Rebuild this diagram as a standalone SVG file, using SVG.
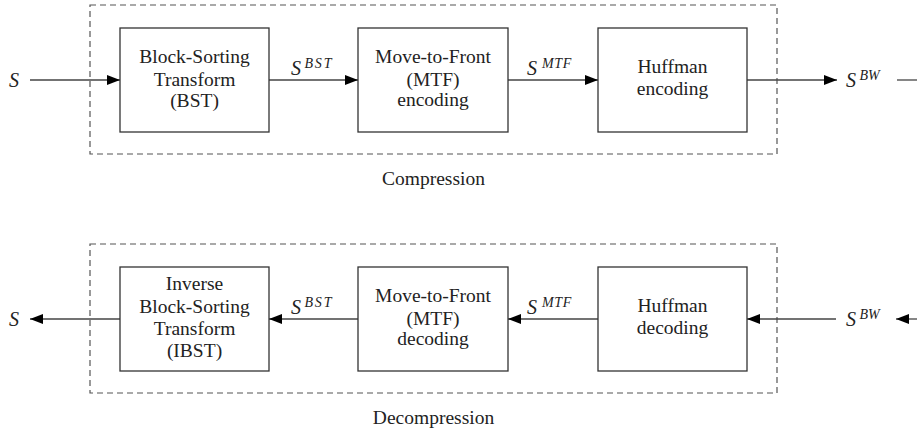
<svg xmlns="http://www.w3.org/2000/svg" width="917" height="431" viewBox="0 0 917 431">
<style>
text{font-family:'Liberation Serif','Times New Roman',serif;font-size:19.5px;fill:#222;text-anchor:middle}
.lbl{text-anchor:start}
.m{font-style:italic;font-size:20px}
.sup{font-style:italic;font-size:14px}
.box{fill:#fff;stroke:#333;stroke-width:1.3}
.dash{fill:none;stroke:#555;stroke-width:1.2;stroke-dasharray:6,4}
.ln{fill:none;stroke:#444;stroke-width:1.3}
</style>
<defs>
<marker id="ah" markerWidth="13" markerHeight="10" refX="13" refY="5" orient="auto" markerUnits="userSpaceOnUse">
<path d="M0,0 L13,5 L0,10 Z" fill="#000"/>
</marker>
</defs>
<g id="compression-frame">
<rect class="dash" x="90" y="5" width="687" height="149"/>
<text x="433.5" y="185">Compression</text>
</g>
<g id="decompression-frame">
<rect class="dash" x="90" y="244" width="687" height="149"/>
<text x="433.5" y="424">Decompression</text>
</g>
<g id="connectors">
<line class="ln" x1="30" y1="80" x2="120" y2="80" marker-end="url(#ah)"/>
<line class="ln" x1="269" y1="80" x2="358" y2="80" marker-end="url(#ah)"/>
<line class="ln" x1="508" y1="80" x2="598" y2="80" marker-end="url(#ah)"/>
<line class="ln" x1="747" y1="80" x2="837" y2="80" marker-end="url(#ah)"/>
<line class="ln" x1="897" y1="80" x2="917" y2="80"/>
<line class="ln" x1="917" y1="319" x2="896" y2="319" marker-end="url(#ah)"/>
<line class="ln" x1="836" y1="319" x2="747" y2="319" marker-end="url(#ah)"/>
<line class="ln" x1="598" y1="319" x2="508" y2="319" marker-end="url(#ah)"/>
<line class="ln" x1="358" y1="319" x2="269" y2="319" marker-end="url(#ah)"/>
<line class="ln" x1="120" y1="319" x2="30" y2="319" marker-end="url(#ah)"/>
</g>
<g id="labels">
<text class="m lbl" x="9" y="86.5">S</text>
<text class="lbl" x="291" y="75"><tspan class="m">S</tspan><tspan class="sup" x="304.5" y="68" letter-spacing="1.8">BST</tspan></text>
<text class="lbl" x="527" y="75"><tspan class="m">S</tspan><tspan class="sup" x="542" y="68" letter-spacing="0.6">MTF</tspan></text>
<text class="lbl" x="846" y="87"><tspan class="m">S</tspan><tspan class="sup" x="859.5" y="80">BW</tspan></text>
<text class="m lbl" x="9" y="325.5">S</text>
<text class="lbl" x="291" y="314"><tspan class="m">S</tspan><tspan class="sup" x="304.5" y="307" letter-spacing="1.8">BST</tspan></text>
<text class="lbl" x="527" y="314"><tspan class="m">S</tspan><tspan class="sup" x="542" y="307" letter-spacing="0.6">MTF</tspan></text>
<text class="lbl" x="846" y="326"><tspan class="m">S</tspan><tspan class="sup" x="859.5" y="319">BW</tspan></text>
</g>
<g id="bst">
<rect class="box" x="120" y="28" width="149" height="104"/>
<text x="194.5" y="63">Block-Sorting</text>
<text x="194.5" y="85.5">Transform</text>
<text x="194.5" y="107">(BST)</text>
</g>
<g id="mtf-enc">
<rect class="box" x="358" y="28" width="150" height="104"/>
<text x="433" y="63">Move-to-Front</text>
<text x="433" y="85.5">(MTF)</text>
<text x="433" y="106">encoding</text>
</g>
<g id="huff-enc">
<rect class="box" x="598" y="28" width="149" height="104"/>
<text x="672.5" y="73">Huffman</text>
<text x="672.5" y="95">encoding</text>
</g>
<g id="ibst">
<rect class="box" x="120" y="267" width="149" height="104"/>
<text x="194.5" y="290">Inverse</text>
<text x="194.5" y="313">Block-Sorting</text>
<text x="194.5" y="335">Transform</text>
<text x="194.5" y="357">(IBST)</text>
</g>
<g id="mtf-dec">
<rect class="box" x="358" y="267" width="150" height="104"/>
<text x="433" y="302">Move-to-Front</text>
<text x="433" y="324.5">(MTF)</text>
<text x="433" y="345">decoding</text>
</g>
<g id="huff-dec">
<rect class="box" x="598" y="267" width="149" height="104"/>
<text x="672.5" y="312">Huffman</text>
<text x="672.5" y="334">decoding</text>
</g>
</svg>
